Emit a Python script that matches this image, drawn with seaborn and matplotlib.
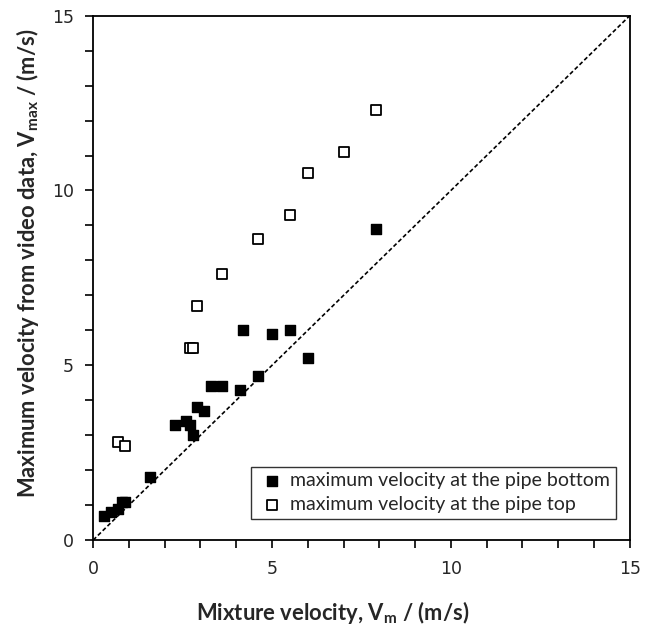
import numpy as np
import pandas as pd
import matplotlib
matplotlib.use("Agg")
import matplotlib.pyplot as plt
import seaborn as sns

# Datos
vm_bottom = [0.3, 0.5, 0.7, 0.8, 0.9, 1.6, 2.3, 2.6, 2.7, 2.8, 2.9, 3.1,
             3.3, 3.6, 4.1, 4.6, 4.2, 5.0, 5.5, 6.0, 7.9]
vmax_bottom = [0.7, 0.8, 0.9, 1.1, 1.1, 1.8, 3.3, 3.4, 3.3, 3.0, 3.8, 3.7,
               4.4, 4.4, 4.3, 4.7, 6.0, 5.9, 6.0, 5.2, 8.9]
vm_top = [0.7, 0.9, 2.7, 2.8, 2.9, 3.6, 4.6, 5.5, 6.0, 7.0, 7.9]
vmax_top = [2.8, 2.7, 5.5, 5.5, 6.7, 7.6, 8.6, 9.3, 10.5, 11.1, 12.3]
label_bottom = "maximum velocity at the pipe bottom"
label_top = "maximum velocity at the pipe top"
diag = [0, 15]

bottom_df = pd.DataFrame({"Vm": vm_bottom, "Vmax": vmax_bottom})
top_df = pd.DataFrame({"Vm": vm_top, "Vmax": vmax_top})

sns.set_style("ticks")
plt.rcParams["font.family"] = ["DejaVu Sans"]

fig = plt.figure(figsize=(6.56, 6.28), dpi=100)
ax = fig.add_axes([0.142, 0.140, 0.818, 0.835])

# linea 1:1
ax.plot(diag, diag, color="black", linestyle=(0, (2.5, 1.5)), linewidth=1.2, zorder=1)
sns.scatterplot(x="Vm", y="Vmax", data=bottom_df, marker="s", s=60, color="black",
                edgecolor="black", linewidth=1.0, label=label_bottom, ax=ax, zorder=3)
sns.scatterplot(x="Vm", y="Vmax", data=top_df, marker="s", s=60, color="white",
                edgecolor="black", linewidth=1.3, label=label_top, ax=ax, zorder=3)

ax.set_xlim(0, 15)
ax.set_ylim(0, 15)
ax.set_xticks([0, 5, 10, 15])
ax.set_yticks([0, 5, 10, 15])
ax.set_xticks(np.arange(0, 16, 1), minor=True)
ax.set_yticks(np.arange(0, 16, 1), minor=True)
ax.tick_params(which="both", direction="out", length=6, width=1.2, color="black",
               labelsize=12.5, pad=8)
for s in ax.spines.values():
    s.set_visible(True)
    s.set_color("black")
    s.set_linewidth(1.3)

ax.set_xlabel(r"Mixture velocity, V$_\mathregular{m}$ / (m/s)", family="Lato",
              fontweight="bold", fontsize=15.8)
ax.set_ylabel(r"Maximum velocity from video data, V$_\mathregular{max}$ / (m/s)",
              family="Lato", fontweight="bold", fontsize=15.8)
ax.xaxis.set_label_coords(0.447, -0.113)
ax.yaxis.set_label_coords(-0.097, 0.527)

leg = ax.legend(loc="lower right", bbox_to_anchor=(0.974, 0.040), frameon=True,
                fancybox=False, edgecolor="black", prop={"family": "Lato", "size": 14},
                handletextpad=0.2, borderpad=0.3, labelspacing=0.35, handlelength=1.5,
                borderaxespad=0)
leg.get_frame().set_linewidth(1.0)

plt.savefig("out.png", dpi=100)
plt.close()
